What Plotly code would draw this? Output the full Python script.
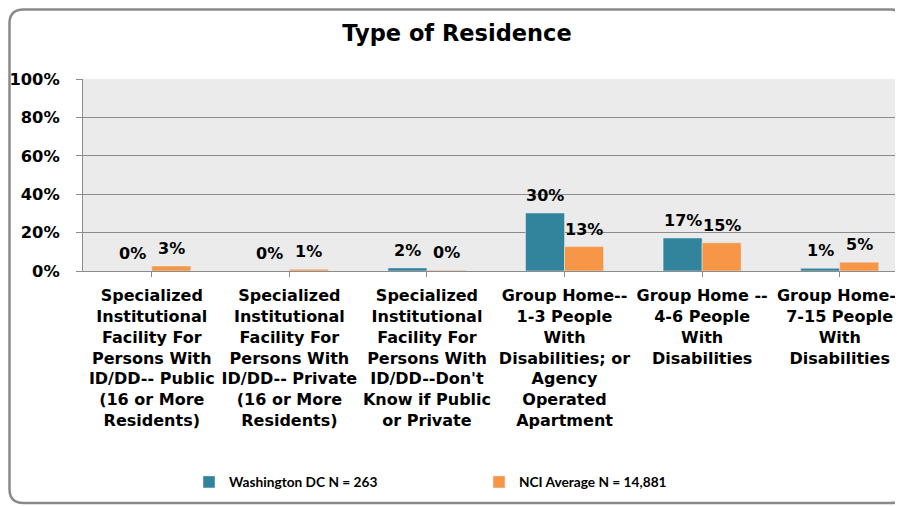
import plotly.graph_objects as go

categories = [
    "Specialized<br>Institutional<br>Facility For<br>Persons With<br>ID/DD-- Public<br>(16 or More<br>Residents)",
    "Specialized<br>Institutional<br>Facility For<br>Persons With<br>ID/DD-- Private<br>(16 or More<br>Residents)",
    "Specialized<br>Institutional<br>Facility For<br>Persons With<br>ID/DD--Don't<br>Know if Public<br>or Private",
    "Group Home--<br>1-3 People<br>With<br>Disabilities; or<br>Agency<br>Operated<br>Apartment",
    "Group Home --<br>4-6 People<br>With<br>Disabilities",
    "Group Home--<br>7-15 People<br>With<br>Disabilities",
]
dc_values = [0.0, 0.0, 1.6, 30.2, 17.2, 1.4]
nci_values = [2.6, 0.9, 0.4, 12.7, 14.7, 4.6]
dc_name = "Washington DC N = 263"
nci_name = "NCI Average N = 14,881"
y_ticks = [0, 20, 40, 60, 80, 100]
y_ticktext = ["0%", "20%", "40%", "60%", "80%", "100%"]

DC_COLOR = "#31849B"
NCI_COLOR = "#F79646"
FONT = "DejaVu Sans"

# page body has an 8px margin; work in screen pixels and convert
OFF = 8
W, H = 903 - OFF, 506 - OFF
ML, MR, MT, MB = 83 - OFF, 0, 79 - OFF, 506 - 271
PW = W - ML - MR
PH = H - MT - MB

xs = list(range(len(categories)))

fig = go.Figure()
fig.add_trace(go.Bar(x=xs, y=dc_values, name=dc_name, marker_color=DC_COLOR))
fig.add_trace(go.Bar(x=xs, y=nci_values, name=nci_name, marker_color=NCI_COLOR))

off = 19.5 / 137.6
annotations = []
for i in xs:
    for v, dx in ((dc_values[i], -off), (nci_values[i], off)):
        annotations.append(dict(
            x=i + dx, y=v, xref="x", yref="y", text=f"{v:.0f}%",
            showarrow=False, yanchor="middle", xanchor="center", yshift=17.5,
            font=dict(family=FONT, size=16, color="black", weight="bold"),
        ))


def px(xs_):
    return (xs_ - OFF - ML) / PW


def py(ys_):
    return (H - MB - (ys_ - OFF)) / PH


L, T, R, B, r = 9.5, 9.5, 905, 503, 14
path = (
    f"M {px(L + r)},{py(T)} L {px(R - r)},{py(T)} Q {px(R)},{py(T)} {px(R)},{py(T + r)} "
    f"L {px(R)},{py(B - r)} Q {px(R)},{py(B)} {px(R - r)},{py(B)} "
    f"L {px(L + r)},{py(B)} Q {px(L)},{py(B)} {px(L)},{py(B - r)} "
    f"L {px(L)},{py(T + r)} Q {px(L)},{py(T)} {px(L + r)},{py(T)} Z"
)

fig.update_layout(
    width=W, height=H,
    margin=dict(l=ML, r=MR, t=MT, b=MB),
    paper_bgcolor="white",
    plot_bgcolor="#EBEBEB",
    barmode="group", bargap=0.433, bargroupgap=0,
    title=dict(text="Type of Residence", x=px(457), xref="paper", xanchor="center",
               y=1 - (33 - OFF) / H, yanchor="middle",
               font=dict(family=FONT, size=22.5, color="black", weight="bold")),
    xaxis=dict(
        tickmode="array", tickvals=xs, ticktext=categories, tickangle=0,
        range=[-0.5, 5.46], tickson="boundaries", ticks="outside", ticklen=5,
        tickcolor="#8C8C8C", showline=True, linecolor="#8C8C8C", linewidth=1,
        showgrid=False, ticklabelstandoff=5, ticklabeloverflow="allow",
        tickfont=dict(family=FONT, size=16, color="black", weight="bold"),
    ),
    yaxis=dict(
        range=[0, 100], tickmode="array", tickvals=y_ticks, ticktext=y_ticktext,
        ticks="outside", ticklen=6, tickcolor="#8C8C8C",
        showline=True, linecolor="#8C8C8C", linewidth=1,
        showgrid=True, gridcolor="#8C8C8C", gridwidth=1, zeroline=False,
        ticklabelstandoff=13,
        tickfont=dict(family=FONT, size=16.3, color="black", weight="bold"),
    ),
    legend=dict(
        orientation="h", x=px(189), xanchor="left", y=py(482), yanchor="middle",
        entrywidth=245, entrywidthmode="pixels",
        font=dict(family="Lato", size=13.7, color="black", weight="bold"),
        bgcolor="rgba(0,0,0,0)",
    ),
    annotations=annotations,
    shapes=[dict(type="path", xref="paper", yref="paper", path=path,
                 line=dict(color="#8A8A8A", width=2.5), fillcolor="rgba(0,0,0,0)",
                 layer="above")],
)

fig.write_html("out.html")
